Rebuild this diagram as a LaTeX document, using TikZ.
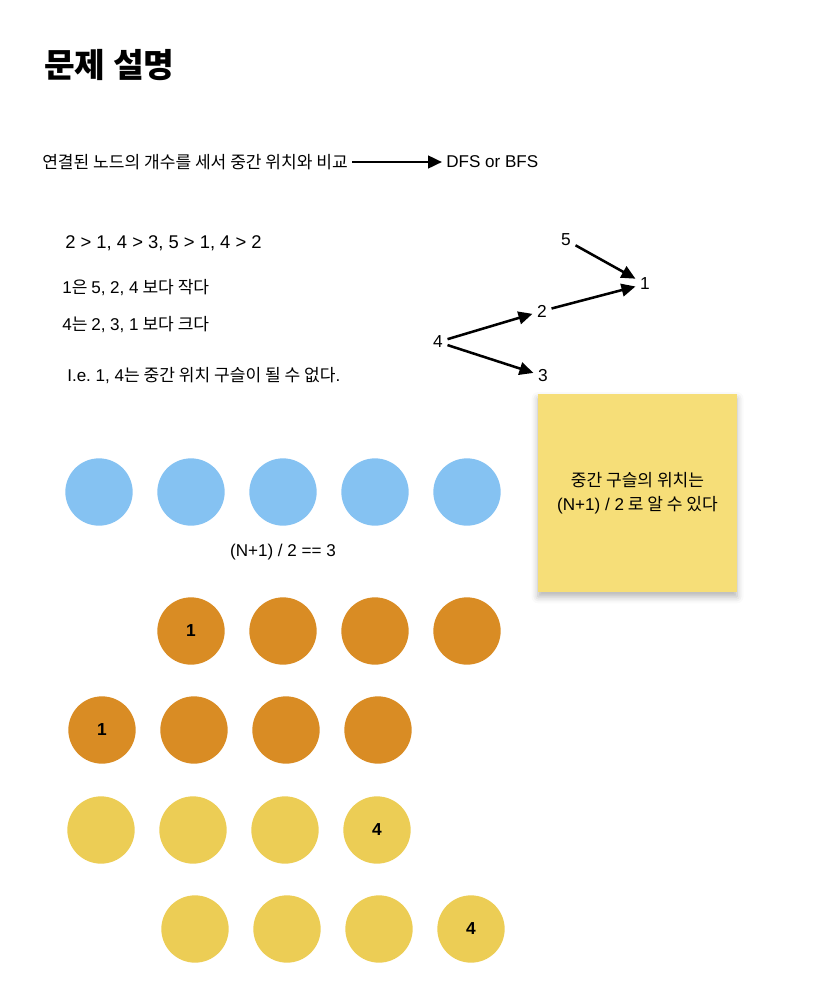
\documentclass[tikz,border=0pt]{standalone}
\usepackage{fontspec}
\setmainfont{Noto Sans CJK KR}
\newfontfamily\latin{Liberation Sans}
\usetikzlibrary{arrows.meta,positioning,shadows.blur}
\definecolor{marbleblue}{RGB}{133,194,242}
\definecolor{marbleorange}{RGB}{217,140,36}
\definecolor{marbleyellow}{RGB}{236,205,85}
\definecolor{stickyyellow}{RGB}{246,222,120}
\newcommand{\lt}[1]{{\latin #1}}
\frenchspacing

\begin{document}
\begin{tikzpicture}[x=0.75pt,y=-0.75pt,
  every node/.style={font=\fontsize{12.8}{18}\selectfont},
  txt/.style={anchor=west,inner sep=0pt},
  marble/.style={circle,minimum size=50.5pt,inner sep=0pt,font=\latin\bfseries\fontsize{13}{15}\selectfont},
  arr/.style={-{Triangle[length=10.5pt,width=9.5pt]},line width=1.9pt},
  stickynote/.style={fill=stickyyellow,minimum width=149pt,minimum height=148.5pt,align=center,
    blur shadow={shadow xshift=0pt,shadow yshift=-3.5pt,shadow blur radius=5pt,shadow opacity=30}}]
\useasboundingbox (0,0) rectangle (814,1000);

% title and description
\node[txt,font=\bfseries\fontsize{25}{28}\selectfont] (title) at (44,65) {문제 설명};
\node[anchor=west,inner sep=3pt] (desc) at (38,162) {연결된 노드의 개수를 세서 중간 위치와 비교};
\node[anchor=west,inner sep=3pt,font=\latin\fontsize{12.8}{18}\selectfont] (dfs) at (442,162) {DFS or BFS};
\draw[arr] (desc) -- (dfs);

\node[txt,font=\latin\fontsize{13.8}{18}\selectfont] (rel) at (65,243) {2 > 1, 4 > 3, 5 > 1, 4 > 2};
\node[txt] (less) at (62,288) {\lt{1}은 \lt{5, 2, 4} 보다 작다};
\node[txt] (more) at (62,325) {\lt{4}는 \lt{2, 3, 1} 보다 크다};
\node[txt] (ie) at (67,376) {\lt{I.e. 1, 4}는 중간 위치 구슬이 될 수 없다\lt{.}};

% graph
\begin{scope}[every node/.style={font=\latin\fontsize{13}{15}\selectfont}]
\node (n5) at (566,240) {5};
\node (n1) at (645,284) {1};
\node (n2) at (542,311) {2};
\node (n4) at (438,342) {4};
\node (n3) at (543,376) {3};
\end{scope}
\draw[arr] (n5) -- (n1);
\draw[arr] (n2) -- (n1);
\draw[arr] (n4) -- (n2);
\draw[arr] (n4) -- (n3);

% sticky note
\node[stickynote] (note) at (637.5,493) {중간 구슬의 위치는\\\lt{(N+1) / 2} 로 알 수 있다};

% marbles
\foreach \x [count=\i] in {99,191,283,375,467}
  \node[marble,fill=marbleblue] (b\i) at (\x,492) {};
\node[font=\latin\fontsize{12.8}{15}\selectfont] (mid) at (283,552) {(N+1) / 2 == 3};

\foreach \x/\t [count=\i] in {191/1,283/,375/,467/}
  \node[marble,fill=marbleorange] (oa\i) at (\x,631) {\t};
\foreach \x/\t [count=\i] in {102/1,194/,286/,378/}
  \node[marble,fill=marbleorange] (ob\i) at (\x,730) {\t};

\foreach \x/\t [count=\i] in {101/,193/,285/,377/4}
  \node[marble,fill=marbleyellow] (ya\i) at (\x,830) {\t};
\foreach \x/\t [count=\i] in {195/,287/,379/,471/4}
  \node[marble,fill=marbleyellow] (yb\i) at (\x,929) {\t};
\end{tikzpicture}
\end{document}
